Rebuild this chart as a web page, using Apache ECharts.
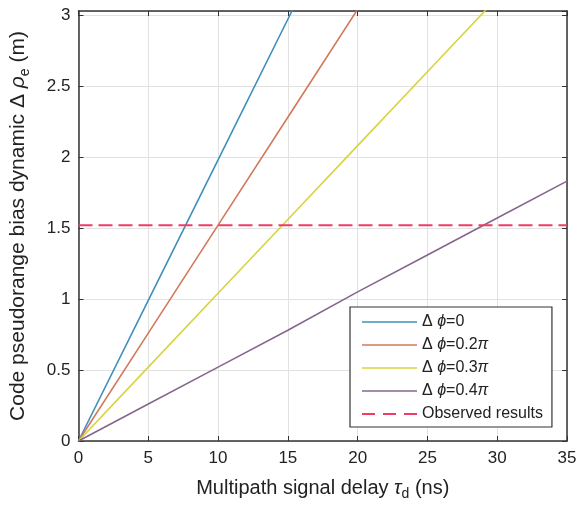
<!DOCTYPE html>
<html>
<head>
<meta charset="utf-8">
<script src="https://cdn.jsdelivr.net/npm/echarts@6/dist/echarts.min.js"></script>
<style>
html,body{margin:0;padding:0;background:#fff;}
#chart{width:581px;height:506px;}
</style>
</head>
<body>
<div id="chart"></div>
<script>
// Data
var seriesNames = ['Δ ϕ=0', 'Δ ϕ=0.2π', 'Δ ϕ=0.3π', 'Δ ϕ=0.4π', 'Observed results'];
var legendLabels = ['Δ {i|ϕ}=0', 'Δ {i|ϕ}=0.2{i|π}', 'Δ {i|ϕ}=0.3{i|π}', 'Δ {i|ϕ}=0.4{i|π}', 'Observed results'];
var delayPhi0   = [0, 5, 10, 15, 16];
var biasPhi0    = [0, 0.99, 1.98, 2.97, 3.17];
var delayPhi02  = [0, 5, 10, 15, 20];
var biasPhi02   = [0, 0.76, 1.52, 2.28, 3.04];
var delayPhi03  = [0, 5, 10, 15, 20, 25, 30];
var biasPhi03   = [0, 0.52, 1.04, 1.56, 2.08, 2.60, 3.12];
var delayPhi04  = [0, 5, 10, 15, 20, 25, 30, 35];
var biasPhi04   = [0, 0.26, 0.52, 0.78, 1.05, 1.31, 1.57, 1.83];
var observedX   = [0, 35];
var observedY   = [1.52, 1.52];

function pairs(xs, ys){ return xs.map(function(x,i){ return [x, ys[i]]; }); }

var colors = ['#3f8fbd', '#d3785b', '#d6d43e', '#86668f', '#f03c64'];
var axisColor = '#333333';
var textColor = '#222222';
var font = 'Liberation Sans, Arial, sans-serif';

var solidIcon = 'path://M0,0 H55 V1.6 H0 Z';
var dashIcon = 'path://M0,0 H13 V2 H0 Z M21,0 H34 V2 H21 Z M42,0 H55 V2 H42 Z';

var chart = echarts.init(document.getElementById('chart'), null, {renderer:'canvas'});

function richName(size, lh){
  return {
    n: {fontSize: size, fontFamily: font, color: textColor, lineHeight: lh},
    it: {fontSize: size, fontFamily: font, color: textColor, fontStyle: 'italic', lineHeight: lh},
    sub: {fontSize: Math.round(size*0.68), fontFamily: font, color: textColor, verticalAlign: 'bottom', lineHeight: lh}
  };
}

function lineSeries(name, data, color, dashed){
  return {
    name: name, type: 'line', data: data, symbol: 'none', showSymbol: false,
    xAxisIndex: 0, yAxisIndex: 0, clip: true, animation: false,
    lineStyle: {color: color, width: dashed ? 2 : 1.6, type: dashed ? [14, 6] : 'solid'},
    itemStyle: {color: color}
  };
}

var option = {
  backgroundColor: '#fff',
  animation: false,
  grid: {left: 77, right: 14, top: 11, bottom: 64, containLabel: false},
  legend: {
    orient: 'vertical', left: 350, top: 307,
    padding: [7, 9, 5, 12],
    itemWidth: 55, itemHeight: 14, itemGap: 7,
    borderColor: axisColor, borderWidth: 1.2, backgroundColor: '#fff',
    textStyle: {fontSize: 16, lineHeight: 16, fontFamily: font, color: textColor,
      rich: {i: {fontSize: 16, lineHeight: 16, fontFamily: font, fontStyle: 'italic', color: textColor}}},
    formatter: function(name){ return legendLabels[seriesNames.indexOf(name)]; },
    data: seriesNames.map(function(n, i){ return {name: n, icon: i === 4 ? dashIcon : solidIcon}; })
  },
  xAxis: [{
    type: 'value', min: 0, max: 35, interval: 5, position: 'bottom',
    name: '{n|Multipath signal delay }{it|τ}{sub|d}{n| (ns)}',
    nameLocation: 'middle', nameGap: 34,
    nameTextStyle: {rich: richName(20, 26)},
    axisLine: {show: true, onZero: false, lineStyle: {color: axisColor, width: 1.5}},
    axisTick: {show: true, inside: true, length: 5, lineStyle: {color: axisColor}},
    axisLabel: {fontSize: 17, fontFamily: font, color: textColor, margin: 9},
    splitLine: {show: true, lineStyle: {color: '#e2e2e2', width: 1}}
  }, {
    type: 'value', min: 0, max: 35, interval: 5, position: 'top',
    axisLine: {show: true, onZero: false, lineStyle: {color: axisColor, width: 1.5}},
    axisTick: {show: true, inside: true, length: 5, lineStyle: {color: axisColor}},
    axisLabel: {show: false}, splitLine: {show: false}
  }],
  yAxis: [{
    type: 'value', min: 0, max: 3.028, interval: 0.5, position: 'left',
    name: '{n|Code pseudorange bias dynamic Δ }{it|ρ}{sub|e}{n| (m)}',
    nameLocation: 'middle', nameGap: 46, nameRotate: 90,
    nameTextStyle: {rich: richName(21, 28)},
    axisLine: {show: true, onZero: false, lineStyle: {color: axisColor, width: 1.5}},
    axisTick: {show: true, inside: true, length: 5, lineStyle: {color: axisColor}},
    axisLabel: {fontSize: 17, fontFamily: font, color: textColor, margin: 8, showMaxLabel: false, padding: [5, 0, 0, 0]},
    splitLine: {show: true, lineStyle: {color: '#e2e2e2', width: 1}}
  }, {
    type: 'value', min: 0, max: 3.028, interval: 0.5, position: 'right',
    axisLine: {show: true, onZero: false, lineStyle: {color: axisColor, width: 1.5}},
    axisTick: {show: true, inside: true, length: 5, lineStyle: {color: axisColor}},
    axisLabel: {show: false}, splitLine: {show: false}
  }],
  series: [
    lineSeries(seriesNames[0], pairs(delayPhi0, biasPhi0), colors[0], false),
    lineSeries(seriesNames[1], pairs(delayPhi02, biasPhi02), colors[1], false),
    lineSeries(seriesNames[2], pairs(delayPhi03, biasPhi03), colors[2], false),
    lineSeries(seriesNames[3], pairs(delayPhi04, biasPhi04), colors[3], false),
    lineSeries(seriesNames[4], pairs(observedX, observedY), colors[4], true)
  ]
};
chart.setOption(option);
</script>
</body>
</html>
